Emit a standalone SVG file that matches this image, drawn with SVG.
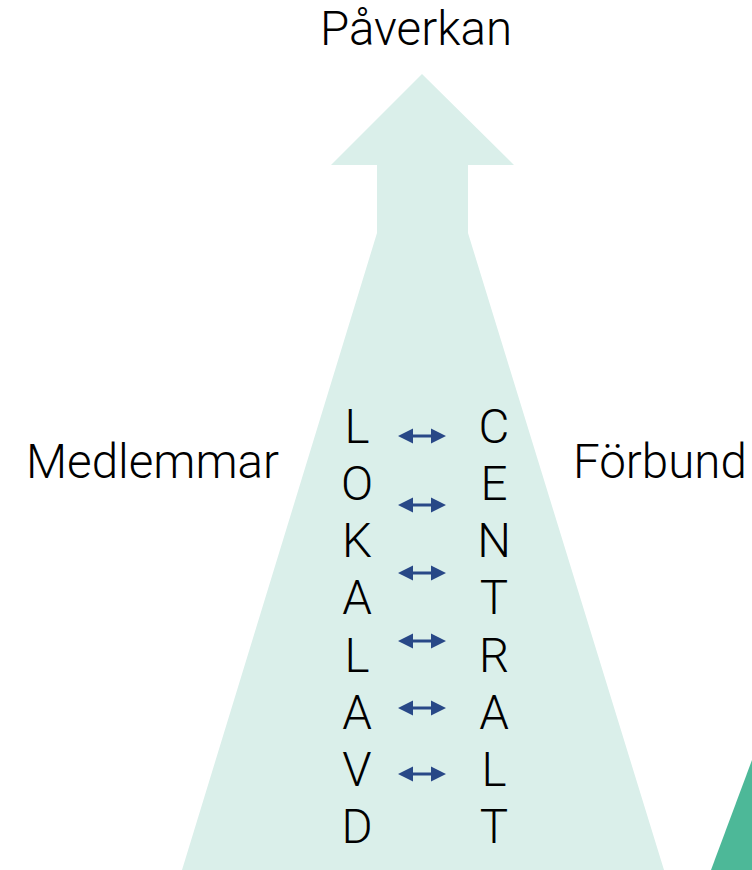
<svg xmlns="http://www.w3.org/2000/svg" width="752" height="870" viewBox="0 0 752 870">
<defs>
<style>
.t{font-family:Roboto,"Liberation Sans",sans-serif;font-weight:300;fill:#000;font-size:47.5px}
.c{text-anchor:middle}
.a{fill:#284887}
</style>
<path id="dbl" class="a" d="M0,0 L15,-7.5 L15,-1.6 L33,-1.6 L33,-7.5 L48,0 L33,7.5 L33,1.6 L15,1.6 L15,7.5 Z"/>
</defs>
<rect width="752" height="870" fill="#fff"/>
<g id="trunk">
<path d="M422,74 L514,165 L468,165 L468,233 L664,870 L182,870 L377,233 L377,165 L331,165 Z" fill="#DAEFEA"/>
</g>
<g id="corner">
<path d="M752,760 L752,870 L711,870 Z" fill="#4DB898"/>
</g>
<g id="title"><text class="t c" x="416" y="45">Påverkan</text></g>
<g id="medlemmar"><text class="t" x="26" y="478">Medlemmar</text></g>
<g id="forbund"><text class="t" x="573" y="478">Förbund</text></g>
<g id="lokalavd" class="t c">
<text x="357" y="443">L</text>
<text x="357" y="500">O</text>
<text x="357" y="557">K</text>
<text x="357" y="614">A</text>
<text x="357" y="672">L</text>
<text x="357" y="729">A</text>
<text x="357" y="786">V</text>
<text x="357" y="843">D</text>
</g>
<g id="centralt" class="t c">
<text x="494" y="443">C</text>
<text x="494" y="500">E</text>
<text x="494" y="557">N</text>
<text x="494" y="614">T</text>
<text x="494" y="672">R</text>
<text x="494" y="729">A</text>
<text x="494" y="786">L</text>
<text x="494" y="843">T</text>
</g>
<g id="connectors">
<use href="#dbl" x="398" y="436"/>
<use href="#dbl" x="398" y="505"/>
<use href="#dbl" x="398" y="573"/>
<use href="#dbl" x="398" y="641"/>
<use href="#dbl" x="398" y="708"/>
<use href="#dbl" x="398" y="774"/>
</g>
</svg>
